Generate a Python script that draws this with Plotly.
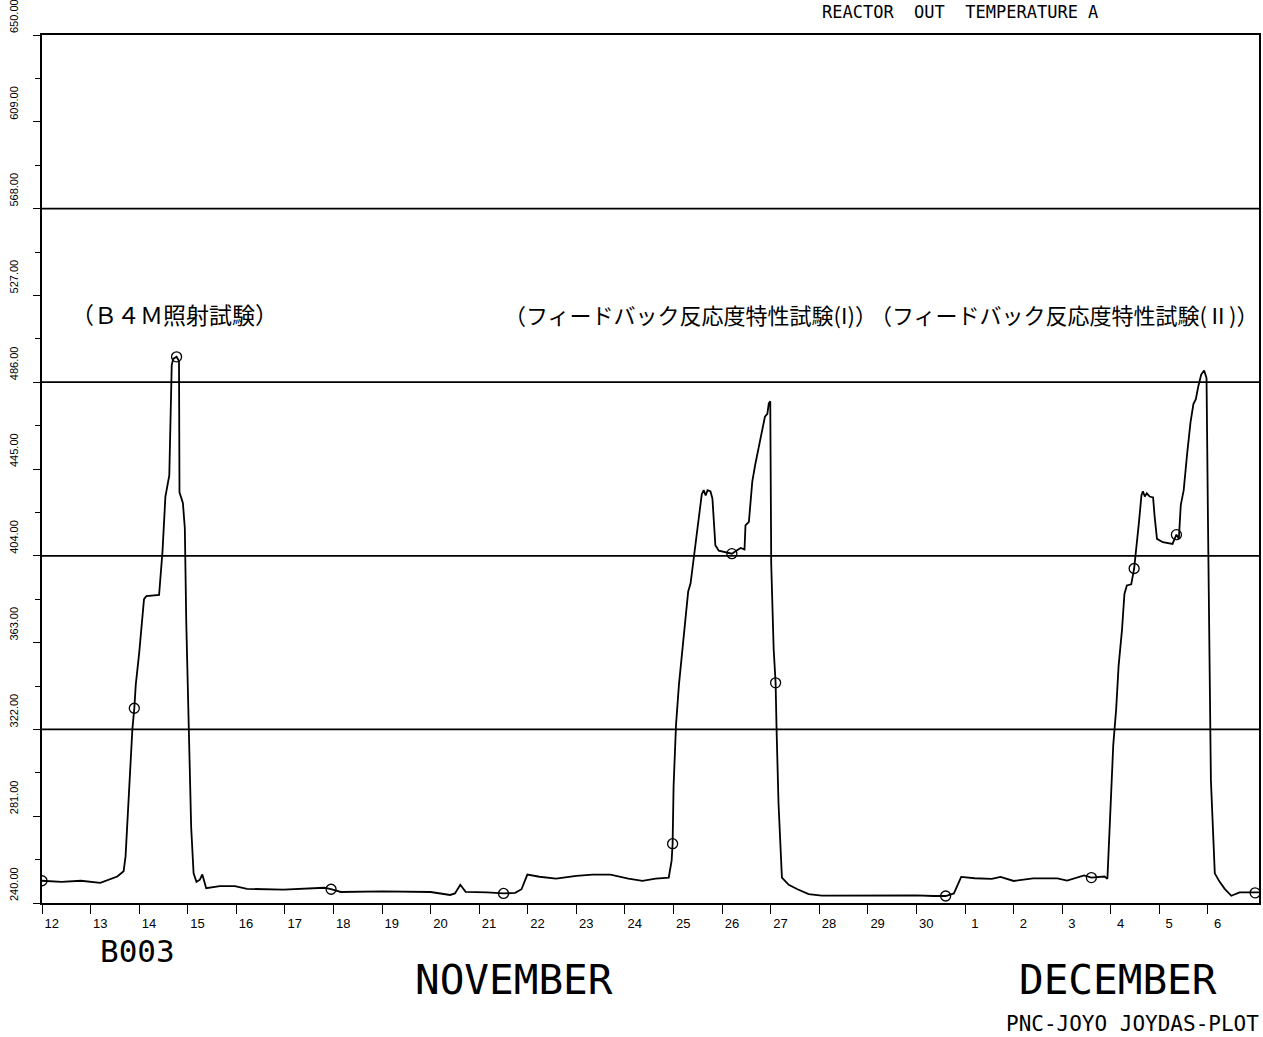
import plotly.graph_objects as go

# ---------------- data ----------------
# x = days elapsed since 12 November (day 0), y = reactor outlet temperature
DAYS = [0, 0.4, 0.8, 1.2, 1.55, 1.68, 1.72, 1.77, 1.86, 1.9, 1.93, 2.0, 2.1, 2.15, 2.41, 2.48, 2.54,
        2.62, 2.64, 2.67, 2.7, 2.77, 2.82, 2.83, 2.9, 2.94, 2.97, 3.02, 3.07, 3.12, 3.18, 3.25, 3.3,
        3.38, 3.66, 3.97, 4.22, 4.97, 5.5, 5.81, 5.95, 6.15, 7.0, 7.48, 8.0, 8.4, 8.5, 8.61, 8.72,
        9.16, 9.5, 9.74, 9.87, 9.99, 10.24, 10.58, 11.0, 11.33, 11.7, 12.07, 12.36, 12.63, 12.9,
        12.96, 12.98, 13.0, 13.05, 13.11, 13.18, 13.25, 13.3, 13.35, 13.42, 13.49, 13.58, 13.62,
        13.66, 13.7, 13.76, 13.8, 13.86, 13.93, 14.2, 14.3, 14.38, 14.46, 14.48, 14.55, 14.62,
        14.68, 14.75, 14.82, 14.88, 14.93, 14.96, 14.99, 15.01, 15.06, 15.1, 15.12, 15.16, 15.23,
        15.37, 15.55, 15.78, 16.05, 17.0, 18.0, 18.35, 18.6, 18.77, 18.92, 19.2, 19.55, 19.73,
        20.0, 20.4, 20.9, 21.1, 21.45, 21.6, 21.87, 21.93, 21.98, 22.05, 22.11, 22.16, 22.23,
        22.28, 22.33, 22.42, 22.48, 22.52, 22.58, 22.63, 22.66, 22.7, 22.74, 22.8, 22.87, 22.9,
        22.95, 23.07, 23.27, 23.35, 23.4, 23.44, 23.5, 23.57, 23.64, 23.7, 23.75, 23.8, 23.86,
        23.92, 23.97, 24.0, 24.03, 24.06, 24.14, 24.24, 24.34, 24.48, 24.65, 24.97, 25.05]
TEMP = [250.5, 250, 250.5, 249.5, 252.5, 255, 262, 284, 322, 332, 343, 358, 383.5, 385, 385.5, 406, 432,
        442, 465, 494, 497, 498, 496, 434, 429, 417, 372, 320, 276, 254, 250, 251, 253.5,
        247, 248, 248, 246.7, 246.3, 246.8, 247.2, 246.5, 245.2, 245.5, 245.4, 245.2, 243.8, 244.5, 248.6, 245.3,
        245, 244.5, 244.8, 246.5, 253.4, 252.4, 251.5, 252.8, 253.4, 253.4, 251.5, 250.5, 251.5, 252,
        260, 268, 295, 324, 343, 359, 375, 387, 391, 404, 415, 433, 435,
        432.5, 435, 434.4, 431, 409, 406.4, 405, 406.5, 407.7, 407, 418.4, 420, 439,
        447, 455, 463, 469.7, 471, 476, 477, 400, 360, 344, 322, 287, 252,
        248.6, 246.5, 244.2, 243.5, 243.6, 243.6, 243.3, 243.3, 244.5, 252.3, 251.7, 251.4, 252.3,
        250.4, 251.6, 251.6, 250.6, 253, 252, 252.5, 251.5, 281, 314.6, 331.6, 352, 369,
        386, 390, 390.5, 398, 406, 420, 432.5, 434.5, 432, 433.5, 432, 431.6, 423,
        412, 410.4, 409.6, 414, 412, 428, 435, 452, 467, 475.7, 478, 484, 489.6,
        491.5, 488, 420, 340, 298, 254, 250, 246.8, 243.4, 245, 244.8, 245]

# circled sample points on the curve
MARK_DAYS = [0, 1.9, 2.77, 5.95, 9.5, 12.98, 14.2, 15.1, 18.6, 21.6, 22.48, 23.35, 24.97]
MARK_TEMP = [250.5, 332, 498, 246.5, 244.5, 268, 405, 344, 243.3, 252, 398, 414, 244.8]

TICK_DAYS = list(range(25))
TICK_TEXT = ["12", "13", "14", "15", "16", "17", "18", "19", "20", "21", "22", "23", "24",
             "25", "26", "27", "28", "29", "30", "1", "2", "3", "4", "5", "6"]
Y_MAJOR = [240, 281, 322, 363, 404, 445, 486, 527, 568, 609, 650]
Y_MINOR = [260.5, 301.5, 342.5, 383.5, 424.5, 465.5, 506.5, 547.5, 588.5, 629.5]
GRID_LEVELS = [322, 404, 486, 568]

X_RANGE = [0, 25.05]
Y_RANGE = [240, 650]

# ---------------- figure ----------------
XTICKFONT = dict(family="Liberation Sans, Arial, sans-serif", size=13, color="black")
YTICKFONT = dict(family="Liberation Sans, Arial, sans-serif", size=11, color="black")
PLOTFONT = "DejaVu Sans Mono, monospace"
CJK = "Noto Sans CJK JP, sans-serif"

fig = go.Figure()
fig.add_trace(go.Scatter(x=DAYS, y=TEMP, mode="lines",
                         line=dict(color="black", width=1.8), showlegend=False, hoverinfo="skip"))
fig.add_trace(go.Scatter(x=MARK_DAYS, y=MARK_TEMP, mode="markers",
                         marker=dict(symbol="circle-open", size=10, color="black", line=dict(width=1.3)),
                         showlegend=False, hoverinfo="skip"))
# invisible trace to carry the x label axis
fig.add_trace(go.Scatter(x=[X_RANGE[0]], y=[Y_RANGE[0]], xaxis="x2", yaxis="y", mode="markers",
                         marker=dict(opacity=0), showlegend=False, hoverinfo="skip"))

for lvl in GRID_LEVELS:
    fig.add_shape(type="line", xref="paper", x0=0, x1=1, yref="y", y0=lvl, y1=lvl,
                  line=dict(color="black", width=1.8))

fig.update_layout(
    width=1263, height=1037, autosize=False,
    margin=dict(l=42, r=2, t=35, b=134),
    plot_bgcolor="white", paper_bgcolor="white",
    xaxis=dict(range=X_RANGE, tickvals=TICK_DAYS, ticks="outside", ticklen=9, tickwidth=1.3,
               tickcolor="black", showticklabels=False, showline=True, linecolor="black",
               linewidth=1.8, mirror=True, showgrid=False, zeroline=False),
    xaxis2=dict(range=X_RANGE, overlaying="x", side="bottom", anchor="y",
                tickvals=[d + 0.2 for d in TICK_DAYS], ticktext=TICK_TEXT, ticks="",
                tickfont=XTICKFONT, showline=False, showgrid=False, zeroline=False,
                ticklabelstandoff=11),
    yaxis=dict(range=Y_RANGE, tickvals=Y_MAJOR, ticks="outside", ticklen=7, tickwidth=1.3,
               tickcolor="black", showticklabels=False, showline=True, linecolor="black",
               linewidth=1.8, mirror=True, showgrid=False, zeroline=False,
               minor=dict(tickvals=Y_MINOR, ticks="outside", ticklen=5, tickwidth=1.2,
                          tickcolor="black", showgrid=False)),
)

# rotated y tick labels, text starting at each tick and reading upwards
for v in Y_MAJOR:
    fig.add_annotation(text="%.2f" % v, xref="paper", yref="y", x=-0.023, y=v,
                       xanchor="center", yanchor="bottom", textangle=-90, showarrow=False,
                       font=YTICKFONT)

ann = [
    dict(text="REACTOR  OUT  TEMPERATURE A", xref="x", yref="paper", x=18.9, y=1.0265,
         font=dict(family=PLOTFONT, size=17, color="black")),
    dict(text="（Ｂ４Ｍ照射試験）", xref="x", yref="y", x=2.73, y=518,
         font=dict(family=CJK, size=23, color="black")),
    dict(text="（フィードバック反応度特性試験(I)）", xref="x", yref="y", x=13.35, y=518,
         font=dict(family=CJK, size=22, color="black")),
    dict(text="（フィードバック反応度特性試験(Ⅱ)）", xref="paper", yref="y", x=1.0, y=518,
         xanchor="right", xshift=1, font=dict(family=CJK, size=22, color="black")),
    dict(text="B003", xref="x", yref="paper", x=1.97, y=-0.055,
         font=dict(family=PLOTFONT, size=31, color="black")),
    dict(text="NOVEMBER", xref="x", yref="paper", x=9.72, y=-0.0887,
         font=dict(family=PLOTFONT, size=41, color="black")),
    dict(text="DECEMBER", xref="x", yref="paper", x=22.15, y=-0.0887,
         font=dict(family=PLOTFONT, size=41, color="black")),
    dict(text="PNC-JOYO JOYDAS-PLOT", xref="paper", yref="paper", x=1.0016, y=-0.1394,
         xanchor="right", font=dict(family=PLOTFONT, size=21, color="black")),
]
for a in ann:
    a.setdefault("showarrow", False)
    a.setdefault("xanchor", "center")
    a.setdefault("yanchor", "middle")
    fig.add_annotation(**a)

fig.write_html("out.html")
